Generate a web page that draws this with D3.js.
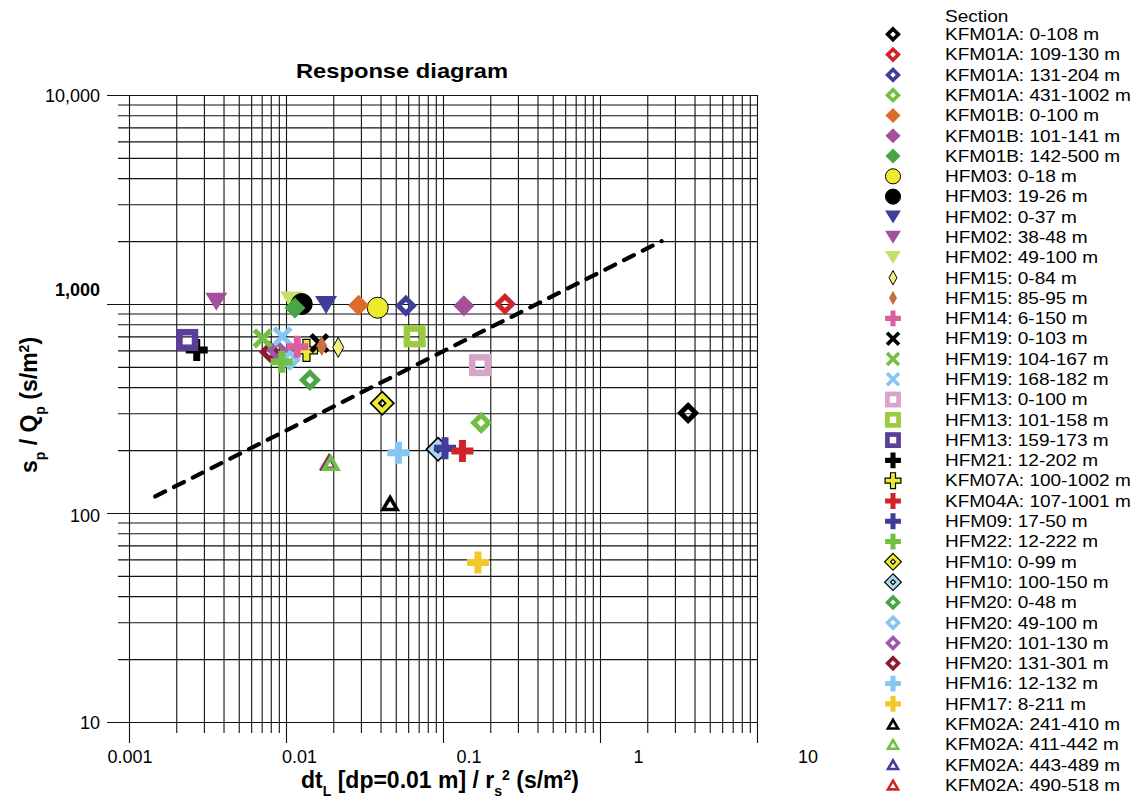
<!DOCTYPE html>
<html>
<head>
<meta charset="utf-8">
<script src="https://cdn.jsdelivr.net/npm/d3@7"></script>
<style>
  body { margin: 0; background: #fff; }
  text { font-family: Arial, "Liberation Sans", sans-serif; fill: #000; }
</style>
</head>
<body>
<div id="chart"></div>
<script>
// values
const sections = [
  "KFM01A: 0-108 m", "KFM01A: 109-130 m", "KFM01A: 131-204 m", "KFM01A: 431-1002 m",
  "KFM01B: 0-100 m", "KFM01B: 101-141 m", "KFM01B: 142-500 m",
  "HFM03: 0-18 m", "HFM03: 19-26 m",
  "HFM02: 0-37 m", "HFM02: 38-48 m", "HFM02: 49-100 m",
  "HFM15: 0-84 m", "HFM15: 85-95 m", "HFM14: 6-150 m",
  "HFM19: 0-103 m", "HFM19: 104-167 m", "HFM19: 168-182 m",
  "HFM13: 0-100 m", "HFM13: 101-158 m", "HFM13: 159-173 m",
  "HFM21: 12-202 m", "KFM07A: 100-1002 m", "KFM04A: 107-1001 m",
  "HFM09: 17-50 m", "HFM22: 12-222 m", "HFM10: 0-99 m", "HFM10: 100-150 m",
  "HFM20: 0-48 m", "HFM20: 49-100 m", "HFM20: 101-130 m", "HFM20: 131-301 m",
  "HFM16: 12-132 m", "HFM17: 8-211 m",
  "KFM02A: 241-410 m", "KFM02A: 411-442 m", "KFM02A: 443-489 m", "KFM02A: 490-518 m"
];
const dtL = [
  3.64, 0.248, 0.058, 0.175,
  0.029, 0.136, 0.0114,
  0.0384, 0.0126,
  0.018, 0.0036, 0.0108,
  0.0215, 0.0169, 0.0118,
  0.0163, 0.0071, 0.0095,
  0.172, 0.066, 0.00235,
  0.0027, 0.0135, 0.133,
  0.103, 0.0094, 0.041, 0.093,
  0.0142, 0.0106, 0.0088, 0.0079,
  0.052, 0.167,
  0.046, 0.0193, 0.019, 0.0188
];
const spQp = [
  301, 1000, 980, 270,
  985, 980, 957,
  960, 1000,
  990, 1025, 1040,
  620, 630, 625,
  650, 685, 700,
  510, 700, 673,
  603, 600, 198,
  204, 530, 335, 202,
  433, 540, 600, 590,
  194, 58,
  111, 173, 173, 175
];
const trendX = [0.00147, 2.47];
const trendY = [120, 2000];
const xTickValues = [0.001, 0.01, 0.1, 1, 10];
const xTickLabels = ["0.001", "0.01", "0.1", "1", "10"];
const yTickValues = [10, 100, 1000, 10000];
const yTickLabels = ["10", "100", "1,000", "10,000"];

// marker styles per section
const symbols = [
  "dh", "dh", "dh", "dh", "df", "df", "df", "ci", "ci", "td", "td", "td",
  "tno", "tn", "pl", "x", "x", "x", "sq", "sq", "sq", "pl", "plo", "pl",
  "pl", "pl", "dd", "dd", "dh", "dh", "dh", "dh", "pl", "pl", "th", "th", "th", "th"
];
const colors = [
  "#000000", "#d2232a", "#3f3d99", "#72bf44", "#dc6c2c", "#a54f9d", "#4aa546",
  "#eeea2e", "#000000", "#3f3d99", "#a54f9d", "#c9dd6a",
  "#f2ef7a", "#c8703e", "#d9609c", "#000000", "#72bf44", "#86c6f0",
  "#d9a3cc", "#9bcb3c", "#5b3f98", "#000000", "#eeea2e", "#d2232a",
  "#3f3d99", "#72bf44", "#eeea2e", "#a9d8f2", "#4aa546", "#86c6f0", "#9a5aaa", "#8c1c2c",
  "#86c6f0", "#f2c82a", "#000000", "#72bf44", "#3f3d99", "#d2232a"
];

const W = 1141, H = 798;
const svg = d3.select("#chart").append("svg")
  .attr("width", W).attr("height", H)
  .style("background", "#fff");

const x = d3.scaleLog().domain([0.001, 10]).range([129, 757]);
const y = d3.scaleLog().domain([10, 10000]).range([722, 95]);
// the tick labels in the original sit on a slightly wider spacing than the ticks
const xLab = d3.scaleLog().domain([0.001, 10]).range([130, 808]);

const isMajor = v => Math.abs(Math.log10(v) - Math.round(Math.log10(v))) < 1e-6;
const minorX = x.ticks().filter(v => !isMajor(v));
const minorY = y.ticks().filter(v => !isMajor(v));

// grid + ticks via axes
function gridAxis(axis, tr) {
  const g = svg.append("g").attr("transform", tr).call(axis);
  g.select(".domain").remove();
  g.selectAll("line").attr("stroke", "#111").attr("stroke-width", 1.1);
  g.selectAll("text").remove();
  return g;
}
gridAxis(d3.axisBottom(x).tickValues(minorX).tickSize(-(733 - 95)), "translate(0,733)");
gridAxis(d3.axisBottom(x).tickValues(xTickValues).tickSize(-(743 - 95)), "translate(0,743)");
gridAxis(d3.axisLeft(y).tickValues(minorY).tickSize(-(757 - 118)), "translate(118,0)");
gridAxis(d3.axisLeft(y).tickValues(yTickValues).tickSize(-(757 - 107)), "translate(107,0)");

// tick labels
svg.append("g").selectAll("text")
  .data(xTickValues)
  .join("text")
  .attr("x", d => xLab(d))
  .attr("y", 763)
  .attr("text-anchor", "middle")
  .style("font-size", "18px")
  .text((d, i) => xTickLabels[i]);

svg.append("g").selectAll("text")
  .data(yTickValues)
  .join("text")
  .attr("x", 100)
  .attr("y", d => y(d) + (d === 1000 ? -8 : d === 100 ? 9 : 6.5))
  .attr("text-anchor", "end")
  .style("font-size", "18px")
  .style("font-weight", d => d === 1000 ? "bold" : "normal")
  .text((d, i) => yTickLabels[i]);

// title and axis titles
svg.append("text")
  .attr("transform", "translate(402,77.5) scale(1.13,1)")
  .attr("text-anchor", "middle")
  .style("font-size", "21px").style("font-weight", "bold")
  .text("Response diagram");

const xt = svg.append("text")
  .attr("x", 440).attr("y", 788)
  .attr("text-anchor", "middle")
  .style("font-size", "23px").style("font-weight", "bold");
xt.append("tspan").text("dt");
xt.append("tspan").attr("baseline-shift", "sub").style("font-size", "14px").text("L");
xt.append("tspan").text(" [dp=0.01 m] / r");
xt.append("tspan").attr("baseline-shift", "sub").style("font-size", "14px").text("s");
xt.append("tspan").attr("baseline-shift", "super").style("font-size", "14px").text("2");
xt.append("tspan").text(" (s/m");
xt.append("tspan").attr("baseline-shift", "super").style("font-size", "14px").text("2");
xt.append("tspan").text(")");

const yt = svg.append("text")
  .attr("transform", "translate(37,405) rotate(-90)")
  .attr("text-anchor", "middle")
  .style("font-size", "23px").style("font-weight", "bold");
yt.append("tspan").text("s");
yt.append("tspan").attr("baseline-shift", "sub").style("font-size", "14px").text("p");
yt.append("tspan").text(" / Q");
yt.append("tspan").attr("baseline-shift", "sub").style("font-size", "14px").text("p");
yt.append("tspan").text(" (s/m");
yt.append("tspan").attr("baseline-shift", "super").style("font-size", "14px").text("2");
yt.append("tspan").text(")");

// dashed trend line
svg.append("path")
  .datum(d3.zip(trendX, trendY))
  .attr("d", d3.line().x(d => x(d[0])).y(d => y(d[1])))
  .attr("fill", "none")
  .attr("stroke", "#000")
  .attr("stroke-width", 4.2)
  .attr("stroke-linecap", "round")
  .attr("stroke-dasharray", "11,10");

// marker drawing
function diamond(rx, ry) {
  return `M0,${-ry}L${rx},0L0,${ry}L${-rx},0Z`;
}
function plusPath(a, b) {
  return `M${-b},${-a}H${b}V${-b}H${a}V${b}H${b}V${a}H${-b}V${b}H${-a}V${-b}H${-b}Z`;
}

function drawMarker(g, kind, color, k) {
  if (kind === "dh") {
    g.append("path").attr("d", diamond(7.5 * k, 7.5 * k))
      .attr("fill", "none").attr("stroke", color).attr("stroke-width", 5 * k);
  } else if (kind === "df") {
    g.append("path").attr("d", diamond(10.5 * k, 10.5 * k)).attr("fill", color);
  } else if (kind === "ci") {
    g.append("circle").attr("r", 10.5 * k).attr("fill", color)
      .attr("stroke", "#000").attr("stroke-width", 1);
  } else if (kind === "td") {
    g.append("path")
      .attr("d", `M${-11 * k},${-9 * k}L${11 * k},${-9 * k}L0,${9 * k}Z`)
      .attr("fill", color);
  } else if (kind === "tn" || kind === "tno") {
    g.append("path").attr("d", diamond(5.5 * k, 10 * k)).attr("fill", color)
      .attr("stroke", kind === "tno" ? "#000" : "none").attr("stroke-width", 1);
  } else if (kind === "pl" || kind === "plo") {
    g.append("path").attr("d", plusPath(11 * k, 3.5 * k)).attr("fill", color)
      .attr("stroke", kind === "plo" ? "#000" : "none").attr("stroke-width", 1.2);
  } else if (kind === "x") {
    const a = 8.3 * k;
    g.append("path").attr("d", `M${-a},${-a}L${a},${a}M${-a},${a}L${a},${-a}`)
      .attr("stroke", color).attr("stroke-width", 5 * k).attr("fill", "none");
  } else if (kind === "sq") {
    const s = 15.5 * k;
    g.append("rect").attr("x", -s / 2).attr("y", -s / 2).attr("width", s).attr("height", s)
      .attr("fill", "none").attr("stroke", color).attr("stroke-width", 6.5 * k);
  } else if (kind === "dd") {
    g.append("path").attr("d", diamond(7.5 * k, 7.5 * k))
      .attr("fill", "none").attr("stroke", "#000").attr("stroke-width", 7.5 * k);
    g.append("path").attr("d", diamond(7.5 * k, 7.5 * k))
      .attr("fill", "none").attr("stroke", color).attr("stroke-width", 4.2 * k);
  } else if (kind === "th") {
    g.append("path")
      .attr("d", `M0,${-6 * k}L${7 * k},${6 * k}L${-7 * k},${6 * k}Z`)
      .attr("fill", "none").attr("stroke", color).attr("stroke-width", 3.6 * k);
  }
}

// points: earlier sections are painted on top
const order = d3.range(sections.length).reverse();
const pts = svg.append("g");
order.forEach(i => {
  const g = pts.append("g").attr("transform", `translate(${x(dtL[i])},${y(spQp[i])})`);
  drawMarker(g, symbols[i], colors[i], 1);
});

// legend
const legend = svg.append("g");
legend.append("text")
  .attr("transform", "translate(945,21.5) scale(1.166,1)")
  .style("font-size", "16.3px")
  .text("Section");
sections.forEach((s, i) => {
  const cy = 34.3 + i * 20.29;
  const g = legend.append("g").attr("transform", `translate(893,${cy})`);
  drawMarker(g, symbols[i], colors[i], 0.72);
  legend.append("text")
    .attr("transform", `translate(945,${cy + 5.8}) scale(1.166,1)`)
    .style("font-size", "16.3px")
    .text(s);
});
</script>
</body>
</html>
